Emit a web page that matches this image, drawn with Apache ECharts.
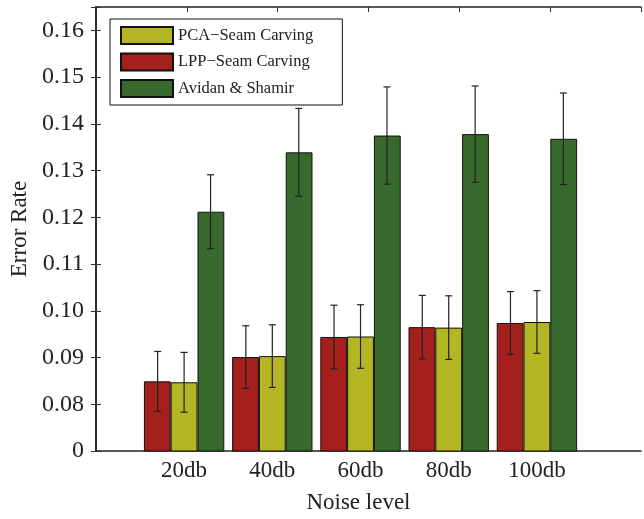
<!DOCTYPE html>
<html>
<head>
<meta charset="utf-8">
<script src="https://cdn.jsdelivr.net/npm/echarts@6/dist/echarts.min.js"></script>
<style>
html, body { margin: 0; padding: 0; background: #fff; }
#main { width: 644px; height: 519px; }
</style>
</head>
<body>
<div id="main"></div>
<script>
var categories = ['20db', '40db', '60db', '80db', '100db'];
var seriesNames = ['LPP\u2212Seam Carving', 'PCA\u2212Seam Carving', 'Avidan & Shamir'];
var legendOrder = ['PCA\u2212Seam Carving', 'LPP\u2212Seam Carving', 'Avidan & Shamir'];
var lppValues = [0.0849, 0.0901, 0.0944, 0.0965, 0.0974];
var lppErrors = [0.0064, 0.0067, 0.0068, 0.0068, 0.0067];
var pcaValues = [0.0847, 0.0903, 0.0945, 0.0964, 0.0976];
var pcaErrors = [0.0064, 0.0067, 0.0068, 0.0068, 0.0067];
var avidanValues = [0.1212, 0.1339, 0.1375, 0.1378, 0.1368];
var avidanErrors = [0.0079, 0.0094, 0.0104, 0.0103, 0.0098];
var yTickLabels = ['0', '0.08', '0.09', '0.10', '0.11', '0.12', '0.13', '0.14', '0.15', '0.16'];

var colors = ['#a3201d', '#b4b624', '#386a2d'];
var FONT = 'Liberation Serif';
var GRID_LEFT = 93, GRID_TOP = 7, GRID_W = 552, GRID_H = 446;
var X_MAX = 6.18;
var BAR_UNITS = 0.3;
var barWidthPx = GRID_W / X_MAX * BAR_UNITS;

var allValues = [lppValues, pcaValues, avidanValues];
var allErrors = [lppErrors, pcaErrors, avidanErrors];

function yLabel(v) {
    var k = Math.round((v - 0.07) * 100);
    if (Math.abs((v - 0.07) * 100 - k) > 1e-6) {
        return '';
    }
    return yTickLabels[k] || '';
}

var series = [];
for (var s = 0; s < 3; ++s) {
    var d = [];
    for (var i = 0; i < categories.length; ++i) {
        d.push([i + 1, allValues[s][i]]);
    }
    series.push({
        name: seriesNames[s],
        type: 'bar',
        barWidth: barWidthPx,
        barGap: '0%',
        itemStyle: { color: colors[s], borderColor: '#111', borderWidth: 1 },
        data: d,
        z: 2
    });
}

var errData = [];
for (var s = 0; s < 3; ++s) {
    for (var i = 0; i < categories.length; ++i) {
        errData.push([i + 1, s, allValues[s][i] - allErrors[s][i], allValues[s][i] + allErrors[s][i]]);
    }
}
series.push({
    type: 'custom',
    z: 5,
    silent: true,
    data: errData,
    encode: { x: 0, y: [2, 3] },
    renderItem: function (params, api) {
        var x = api.value(0) + (api.value(1) - 1) * BAR_UNITS;
        var lo = api.coord([x, api.value(2)]);
        var hi = api.coord([x, api.value(3)]);
        var cap = 3.5;
        var st = { stroke: '#222', lineWidth: 1.2 };
        return {
            type: 'group',
            children: [
                { type: 'line', shape: { x1: lo[0], y1: lo[1], x2: hi[0], y2: hi[1] }, style: st },
                { type: 'line', shape: { x1: lo[0] - cap, y1: lo[1], x2: lo[0] + cap, y2: lo[1] }, style: st },
                { type: 'line', shape: { x1: hi[0] - cap, y1: hi[1], x2: hi[0] + cap, y2: hi[1] }, style: st }
            ]
        };
    }
});

var axisLine = { show: true, lineStyle: { color: '#222', width: 1.5 } };
var tick = { show: true, inside: true, length: 5, lineStyle: { color: '#333', width: 1 } };

var option = {
    animation: false,
    backgroundColor: '#fff',
    textStyle: { fontFamily: FONT },
    grid: { left: GRID_LEFT, top: GRID_TOP, width: GRID_W, height: GRID_H },
    legend: {
        data: legendOrder,
        orient: 'vertical',
        left: 110,
        top: 19,
        icon: 'rect',
        itemWidth: 52,
        itemHeight: 17,
        itemGap: 7.5,
        padding: [7, 29, 7, 10],
        borderColor: '#111',
        borderWidth: 1,
        backgroundColor: '#fff',
        textStyle: { fontFamily: FONT, fontSize: 16.5, color: '#222' }
    },
    xAxis: [{
        type: 'value',
        min: 0,
        max: X_MAX,
        interval: 1,
        splitLine: { show: false },
        axisLine: axisLine,
        axisTick: { show: false },
        axisLabel: {
            fontFamily: FONT, fontSize: 23, color: '#222', margin: 8,
            formatter: function (v) { return categories[Math.round(v) - 1] || ''; }
        },
        name: 'Noise level',
        nameLocation: 'middle',
        nameGap: 40,
        nameTextStyle: { fontFamily: FONT, fontSize: 23, color: '#222', padding: [0, 20, 0, 0] }
    }, {
        type: 'value',
        position: 'top',
        min: 0,
        max: 6,
        interval: 1,
        splitLine: { show: false },
        axisLine: axisLine,
        axisTick: tick,
        axisLabel: { show: false }
    }],
    yAxis: [{
        type: 'value',
        min: 0.07,
        max: 0.165,
        interval: 0.01,
        splitLine: { show: false },
        axisLine: axisLine,
        axisTick: tick,
        axisLabel: { fontFamily: FONT, fontSize: 24, color: '#222', margin: 12, formatter: yLabel },
        name: 'Error Rate',
        nameLocation: 'middle',
        nameGap: 64,
        nameTextStyle: { fontFamily: FONT, fontSize: 23, color: '#222' }
    }, {
        type: 'value',
        position: 'right',
        min: 0.07,
        max: 0.165,
        interval: 0.01,
        splitLine: { show: false },
        axisLine: axisLine,
        axisTick: tick,
        axisLabel: { show: false }
    }],
    series: series
};

echarts.init(document.getElementById('main')).setOption(option);
</script>
</body>
</html>
